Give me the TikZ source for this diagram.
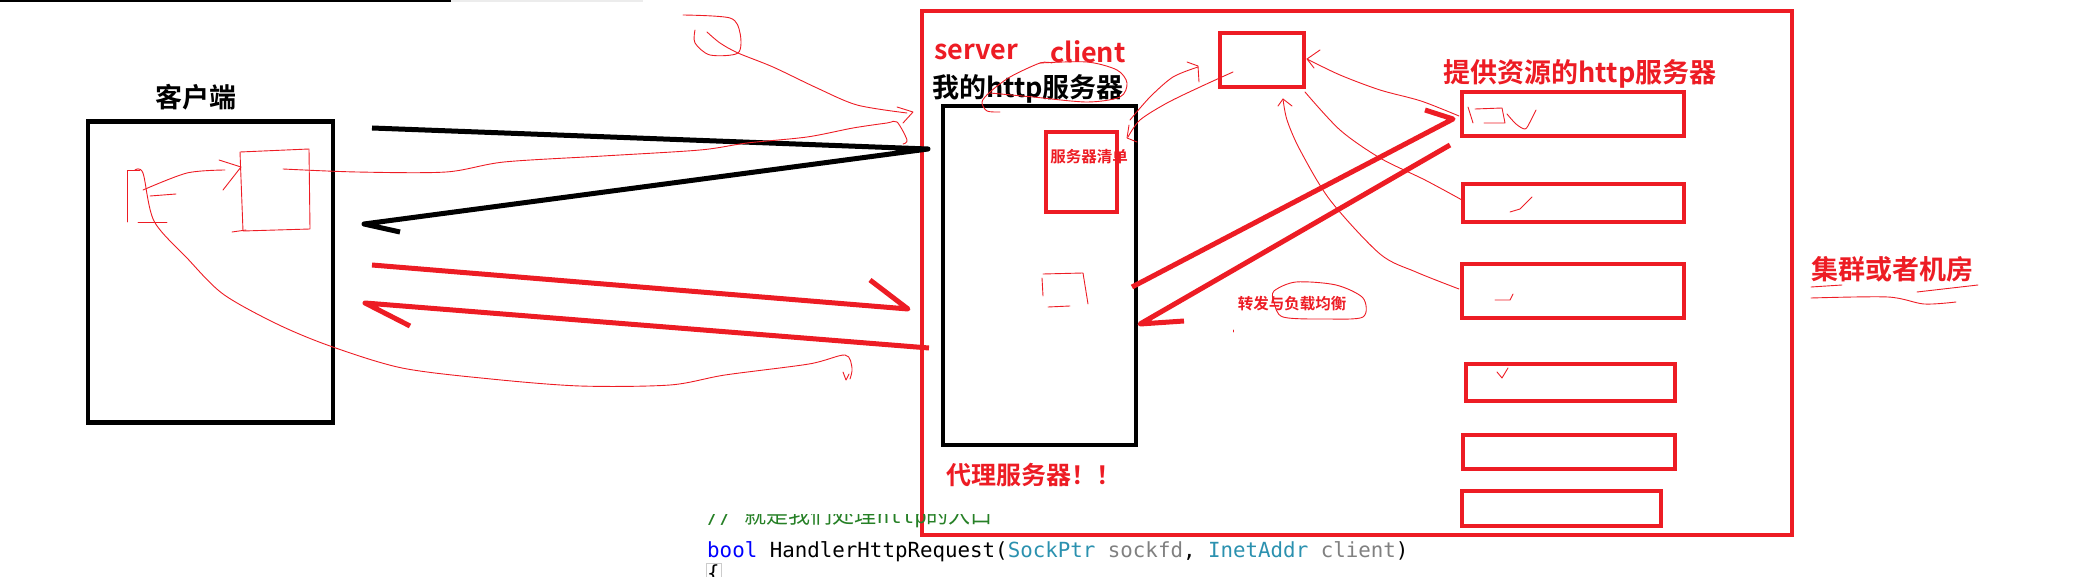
\documentclass[tikz,border=0pt]{standalone}
\usepackage{fontspec}
\setmainfont{Noto Sans CJK SC}[BoldFont={Noto Sans CJK SC Bold}]
\newfontfamily\codefont{DejaVu Sans Mono}
\usetikzlibrary{positioning}
\definecolor{paintred}{RGB}{237,28,36}
\definecolor{kwblue}{RGB}{0,0,255}
\definecolor{typeteal}{RGB}{43,145,175}
\definecolor{parmgray}{RGB}{128,128,128}
\definecolor{cmtgreen}{RGB}{0,128,0}
\newcommand\fsz[1]{\fontsize{#1}{#1}\selectfont}

\begin{document}
\begin{tikzpicture}[x=1pt,y=-1pt,
  blk/.style={draw,rectangle,inner sep=0pt,outer sep=0pt,line width=4.5pt},
  redblk/.style={blk,draw=paintred},
  lbl/.style={inner sep=0pt,font=\bfseries\fsz{27}},
  redlbl/.style={lbl,text=paintred},
  fat/.style={line width=5pt,line join=round},
  scribble/.style={draw=paintred,line width=0.9pt,line join=round,line cap=round}]

        \useasboundingbox (0,0) rectangle (2091,577);
        \draw[line width=2.5pt] (0,1) -- (451,1);
        \draw[gray!15,line width=2pt] (451,1) -- (643,1);

        \node[blk,minimum width=245pt,minimum height=301pt] (client) at (210.5,272) {};
        \node[lbl] (clientlbl) at (196,97) {客户端};

        \node[redblk,minimum width=870pt,minimum height=524pt] (cluster) at (1357,273) {};
        \node[blk,minimum width=193pt,minimum height=339pt] (proxy) at (1039.5,275.5) {};
        \node[redblk,line width=4pt,minimum width=71pt,minimum height=80pt] (list) at (1081.5,172) {};
        \node[redblk,minimum width=84pt,minimum height=54pt] (top) at (1262,60) {};

        \node[redblk,minimum width=222pt,minimum height=44pt] (srvA) at (1573,114) {};
        \node[redblk,minimum width=221pt,minimum height=38pt] (srvB) at (1573.5,203) {};
        \node[redblk,minimum width=222pt,minimum height=54pt] (srvC) at (1573,291) {};
        \node[redblk,minimum width=209pt,minimum height=37pt] (srvD) at (1570.5,382.5) {};
        \node[redblk,minimum width=212pt,minimum height=34pt] (srvE) at (1569,452) {};
        \node[redblk,minimum width=199pt,minimum height=35pt] (srvF) at (1561.5,508.5) {};

        \node[redlbl] (srvlbl) at (976,52) {server};
        \node[redlbl] (clilbl) at (1088,52) {client};
        \node[lbl] (mine) at (1028,89) {我的http服务器};
        \node[redlbl,font=\bfseries\fsz{15.5}] (listlbl) at (1089,157) {服务器清单};
        \node[redlbl] (reslbl) at (1580,74) {提供资源的http服务器};
        \node[redlbl] (clulbl) at (1892,269) {集群或者机房};
        \node[redlbl,font=\bfseries\fsz{25}] (proxylbl) at (1034,475) {代理服务器！！};
        \node[redlbl,font=\bfseries\fsz{15.5}] (fwdlbl) at (1292,304) {转发与负载均衡};

        \begin{scope}
          \clip (700,514) rectangle (1010,540);
          \node[anchor=base west,inner sep=0pt,text=cmtgreen!70!gray] (cmt) at (707,523)
            {{\codefont\fsz{20.8}// }\fsz{22}就是我们处理{\codefont\fsz{20.8}http}的入口};
        \end{scope}
        \node[anchor=base west,inner sep=0pt,font=\codefont\fsz{20.8}] (sig) at (707,557)
          {\textcolor{kwblue}{bool} HandlerHttpRequest(\textcolor{typeteal}{SockPtr} \textcolor{parmgray}{sockfd}, \textcolor{typeteal}{InetAddr} \textcolor{parmgray}{client})};
        \node[draw=gray!40,anchor=north west,inner sep=1pt,font=\codefont\fsz{20.8}] (brace) at (706,563) {\{};

        \coordinate (b1) at (372,128);
        \coordinate (bj) at (928,149);
        \coordinate (b2) at (364,224);
        \coordinate (b2h) at (400,232);
        \draw[fat] (b1) -- (bj) -- (b2) -- (b2h);

        \coordinate (r1) at (372,265);
        \coordinate (r1e) at (908,309);
        \coordinate (r1h) at (870,280);
        \draw[fat,paintred] (r1) -- (r1e) -- (r1h);
        \coordinate (r2) at (929,348);
        \coordinate (r2e) at (365,303);
        \coordinate (r2h) at (410,326);
        \draw[fat,paintred] (r2) -- (r2e) -- (r2h);
        \coordinate (r3) at (1132,287);
        \coordinate (r3e) at (1453,119);
        \coordinate (r3h) at (1425,110);
        \draw[fat,paintred] (r3) -- (r3e) -- (r3h);
        \coordinate (r4) at (1450,145);
        \coordinate (r4e) at (1140,324);
        \coordinate (r4h) at (1184,321);
        \draw[fat,paintred] (r4) -- (r4e) -- (r4h);

        \draw[scribble] (240,152) -- (309,149) -- (310,229) -- (243,231) -- cycle;
        \draw[scribble] (232,232) -- (246,230);
        \draw[scribble] plot[smooth] coordinates {(143,190) (187,173) (225,170)};
        \draw[scribble] (219,160) -- (241,167) -- (223,190);
        \draw[scribble] (127,222) -- (127,170) -- (140,170);
        \draw[scribble] (138,222) -- (167,222);
        \draw[scribble] (150,196) -- (176,194);
        \draw[scribble] plot[smooth] coordinates {(135,170) (143,173) (154,221) (187,258) (223,294) (277,324) (330,346) (402,368) (491,379) (580,386) (670,385) (725,375) (809,364) (845,355) (852,368) (850,379)};
        \draw[scribble] (843,372) -- (846,380) -- (849,374);
        \draw[scribble] plot[smooth] coordinates {(283,169) (357,172) (446,172) (504,162) (603,156) (700,150) (747,143) (807,137) (853,128) (887,123) (897,122) (907,140) (903,144)};
        \draw[scribble] plot[smooth] coordinates {(683,15) (730,18) (740,33) (738,53) (710,55) (695,43) (695,30)};
        \draw[scribble] plot[smooth] coordinates {(707,32) (720,43) (738,53) (773,67) (817,88) (857,105) (907,113)};
        \draw[scribble] (897,107) -- (913,112) -- (903,123);
        \draw[scribble] plot[smooth] coordinates {(1052,63) (1040,63) (1010,77) (990,92) (982,102) (987,111) (1000,112)};
        \draw[scribble] plot[smooth] coordinates {(1040,63) (1087,62) (1117,70) (1127,83) (1120,97) (1087,102) (1033,97) (990,93)};
        \draw[scribble] plot[smooth] coordinates {(1130,120) (1150,97) (1173,77) (1198,67)};
        \draw[scribble] (1187,62) -- (1198,66) -- (1199,82);
        \draw[scribble] plot[smooth] coordinates {(1233,72) (1200,87) (1167,103) (1140,120) (1128,137)};
        \draw[scribble] (1129,125) -- (1127,138) -- (1137,142);
        \draw[scribble] plot[smooth] coordinates {(1459,116) (1421,101) (1380,90) (1340,75) (1307,59)};
        \draw[scribble] (1320,50) -- (1307,59) -- (1314,68);
        \draw[scribble] plot[smooth] coordinates {(1462,200) (1425,180) (1380,158) (1340,130) (1305,92)};
        \draw[scribble] plot[smooth] coordinates {(1459,289) (1416,272) (1380,254) (1330,200) (1300,150) (1287,120) (1283,99)};
        \draw[scribble] (1278,106) -- (1283,99) -- (1292,106);
        \draw[scribble] (1042,278) -- (1043,296);
        \draw[scribble] (1043,274) -- (1083,273) -- (1088,304);
        \draw[scribble] (1048,307) -- (1070,306);
        \draw[scribble] plot[smooth cycle] coordinates {(1274,291) (1296,282) (1336,285) (1363,298) (1363,317) (1327,319) (1283,317) (1274,302)};
        \draw[scribble] (1233,330) -- (1233,332);
        \draw[scribble] (1811,287) -- (1842,285);
        \draw[scribble] (1917,292) -- (1978,285);
        \draw[scribble] plot[smooth] coordinates {(1811,298) (1888,297) (1924,304) (1956,302)};
        \draw[scribble] (1468,107) -- (1473,123);
        \draw[scribble] (1475,109) -- (1502,108) -- (1505,123) -- (1484,123);
        \draw[scribble] plot[smooth] coordinates {(1507,114) (1516,124) (1525,129) (1530,122) (1536,110)};
        \draw[scribble] (1510,212) -- (1520,209) -- (1532,197);
        \draw[scribble] (1495,300) -- (1510,300) -- (1513,294);
        \draw[scribble] (1497,372) -- (1502,378) -- (1508,368);
      \end{tikzpicture}
\end{document}
